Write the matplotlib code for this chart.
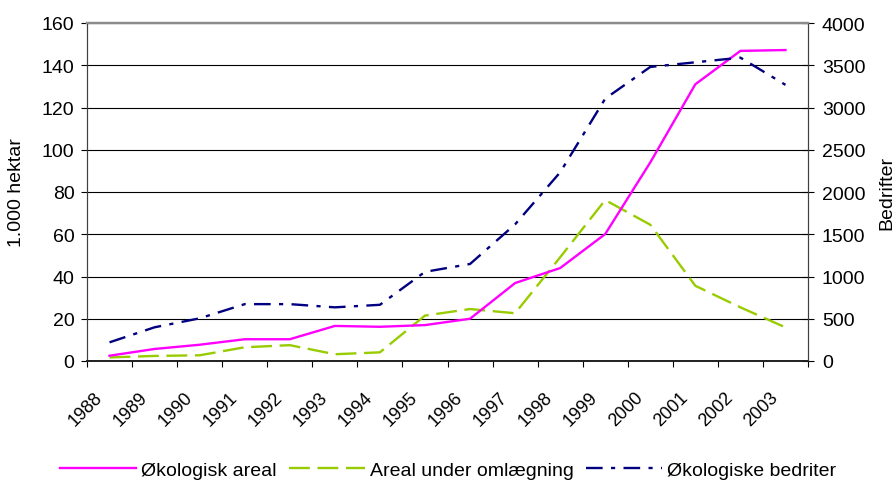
import numpy as np
import matplotlib
matplotlib.use('Agg')
import matplotlib.pyplot as plt
import matplotlib.transforms as mtransforms

plt.rcParams['font.family'] = ['Liberation Sans', 'DejaVu Sans']
plt.rcParams['lines.scale_dashes'] = False

# data
years = ['1988', '1989', '1990', '1991', '1992', '1993', '1994', '1995',
         '1996', '1997', '1998', '1999', '2000', '2001', '2002', '2003']
areal = [2.5, 5.7, 7.7, 10.3, 10.3, 16.6, 16.2, 17.0,
         20.0, 36.9, 44.0, 60.1, 94.0, 131.0, 146.8, 147.2]
omlaegning = [1.7, 2.4, 2.7, 6.5, 7.5, 3.2, 4.1, 21.5,
              24.6, 22.6, 49.1, 76.2, 64.5, 35.6, 25.4, 15.9]
bedrifter = [221, 399, 505, 673, 673, 635, 665, 1055,
             1148, 1617, 2233, 3105, 3480, 3535, 3590, 3268]

PINK = '#FF00FF'
GREEN = '#99CC00'
NAVY = '#000080'

fig = plt.figure(figsize=(8.96, 4.81), dpi=100)
ax = fig.add_axes([87 / 896, 119 / 481, 721 / 896, 338 / 481])
ax2 = ax.twinx()

x = np.arange(len(years))
l1, = ax.plot(x, areal, color=PINK, lw=1.7, zorder=3)
l2, = ax.plot(x, omlaegning, color=GREEN, lw=1.7, zorder=2)
l2.set_dashes([15, 5.5])
l3, = ax2.plot(x, bedrifter, color=NAVY, lw=1.7)
l3.set_dashes([12, 6, 3, 6])

ax.set_xlim(-0.5, len(years) - 0.5)
ax.set_ylim(0, 160)
ax2.set_ylim(0, 4000)

# y axes
ax.set_yticks(np.arange(0, 161, 20))
ax2.set_yticks(np.arange(0, 4001, 500))
ax.yaxis.grid(True, color='black', lw=0.8)
ax.tick_params(axis='y', direction='out', length=4, width=0.8, pad=5, labelsize=14)
ax2.tick_params(axis='y', direction='inout', length=8, width=0.8, pad=6, labelsize=14)

# x axis: marks between categories, labels at the centres
ax.set_xticks(np.arange(-0.5, len(years), 1))
ax.set_xticklabels([])
ax.tick_params(axis='x', which='major', direction='out', length=4, width=0.8)
ax.set_xticks(x, labels=years, minor=True)
ax.tick_params(axis='x', which='minor', length=0, pad=24, labelsize=13)
shift = mtransforms.ScaledTranslation(-10 / 100, 0, fig.dpi_scale_trans)
for lab in ax.get_xticklabels(minor=True):
    lab.set_rotation(45)
    lab.set_ha('right')
    lab.set_va('center')
    lab.set_rotation_mode('anchor')
    lab.set_transform(lab.get_transform() + shift)

# frame
for a in (ax, ax2):
    a.spines['top'].set_color('#8c8c8c')
    a.spines['top'].set_linewidth(1.6)
    a.spines['left'].set_color('#404040')
    a.spines['right'].set_color('#404040')
    a.spines['bottom'].set_color('#202020')
    a.spines['bottom'].set_linewidth(1.2)

ax.set_ylabel('1.000 hektar', fontsize=14)
ax.yaxis.set_label_coords(-62 / 721, 0.5)
ax2.set_ylabel('Bedrifter', fontsize=14, rotation=90)
ax2.yaxis.set_label_coords(1 + 70 / 721, 0.5)

fig.legend([l1, l2, l3], ['Økologisk areal', 'Areal under omlægning', 'Økologiske bedriter'],
           loc='center', bbox_to_anchor=(448 / 896, 1 - 471 / 481), ncol=3,
           frameon=False, fontsize=14, handlelength=3.9, handletextpad=0.26,
           columnspacing=0.65, borderpad=0)

fig.savefig('out.png', dpi=100)
